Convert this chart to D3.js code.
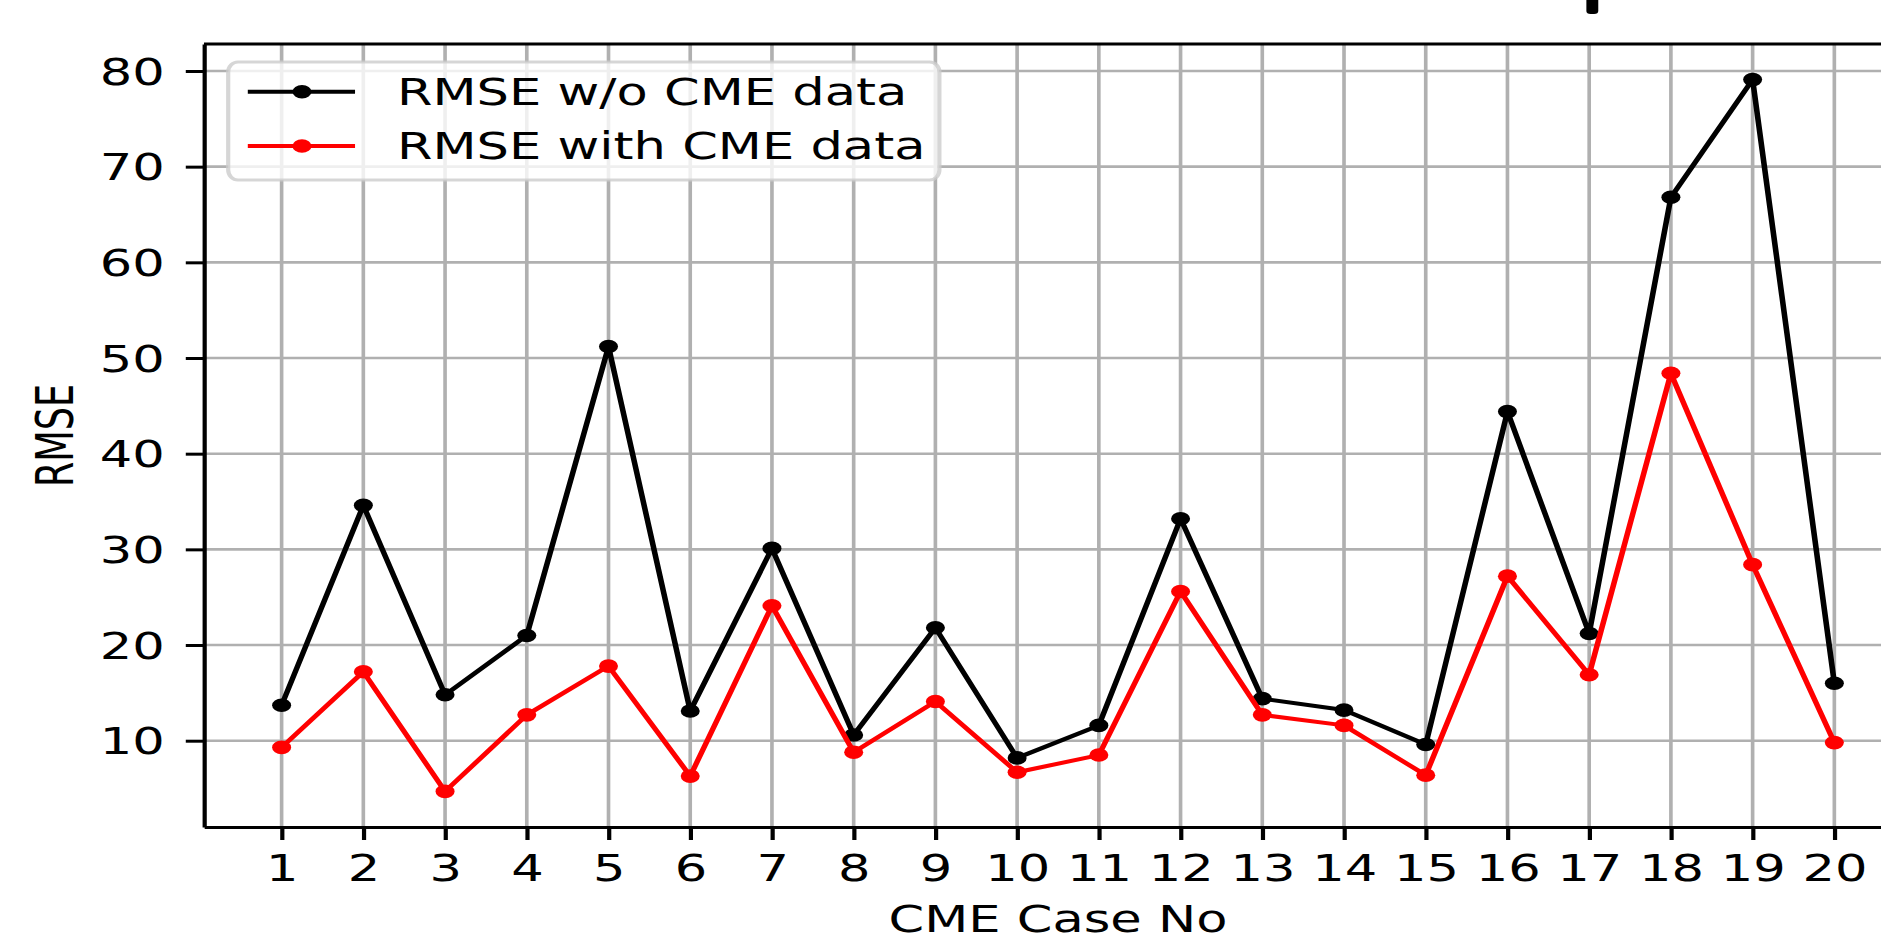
<!DOCTYPE html>
<html lang="en">
<head>
  <meta charset="UTF-8">
  <title>RMSE per CME case</title>
  <script src="https://d3js.org/d3.v7.min.js"></script>
  <style>
    body {
      margin: 0;
      background: #fff;
    }

    svg {
      display: block;
    }

    text {
      font-family: "DejaVu Sans", sans-serif;
      fill: #000;
    }
  </style>
</head>
<body>
  <svg id="chart"></svg>

  <script>
    const cases = [1, 2, 3, 4, 5, 6, 7, 8, 9, 10, 11, 12, 13, 14, 15, 16, 17, 18, 19, 20];
    const rmseWithout = [13.7, 34.6, 14.8, 21.0, 51.2, 13.1, 30.1, 10.6, 21.8, 8.2,
                         11.6, 33.2, 14.4, 13.2, 9.6, 44.4, 21.2, 66.8, 79.1, 16.0];
    const rmseWith = [9.3, 17.2, 4.7, 12.7, 17.8, 6.3, 24.1, 8.8, 14.1, 6.7,
                      8.5, 25.6, 12.7, 11.6, 6.4, 27.2, 16.9, 48.4, 28.4, 9.8];
    const yTicks = [10, 20, 30, 40, 50, 60, 70, 80];
    const seriesNames = ["RMSE w/o CME data", "RMSE with CME data"];

    // the picture is a matplotlib figure stretched sideways, so draw in a
    // narrower box and let the viewBox stretch it
    const width = 1881;
    const height = 934;
    const stretch = 1.4;
    const vw = width / stretch;

    const svg = d3.select("#chart")
      .attr("width", width)
      .attr("height", height)
      .attr("viewBox", `0 0 ${vw} ${height}`)
      .attr("preserveAspectRatio", "none");

    const plot = { left: 145.7, right: 1365.7, top: 44, bottom: 827 };
    const fontSize = 36.5;

    // matplotlib style 5% margins around the data
    const xMin = d3.min(cases), xMax = d3.max(cases);
    const xPad = (xMax - xMin) * 0.05;
    const allVals = rmseWithout.concat(rmseWith);
    const yMin = d3.min(allVals), yMax = d3.max(allVals);
    const yPad = (yMax - yMin) * 0.05;

    const x = d3.scaleLinear()
      .domain([xMin - xPad, xMax + xPad])
      .range([plot.left, plot.right]);

    const y = d3.scaleLinear()
      .domain([yMin - yPad, yMax + yPad])
      .range([plot.bottom, plot.top]);

    // grid
    const grid = svg.append("g")
      .attr("stroke", "#b0b0b0")
      .attr("stroke-width", 2.6);

    grid.selectAll(".vgrid")
      .data(cases)
      .join("line")
      .attr("x1", d => x(d))
      .attr("x2", d => x(d))
      .attr("y1", plot.top)
      .attr("y2", plot.bottom);

    grid.selectAll(".hgrid")
      .data(yTicks)
      .join("line")
      .attr("x1", plot.left)
      .attr("x2", plot.right)
      .attr("y1", d => y(d))
      .attr("y2", d => y(d));

    // axes
    const xAxis = d3.axisBottom(x)
      .tickValues(cases)
      .tickFormat(d3.format("d"))
      .tickSize(13)
      .tickSizeOuter(0)
      .tickPadding(15);

    const yAxis = d3.axisLeft(y)
      .tickValues(yTicks)
      .tickFormat(d3.format("d"))
      .tickSize(13)
      .tickSizeOuter(0)
      .tickPadding(15);

    const gx = svg.append("g")
      .attr("transform", `translate(0,${plot.bottom})`)
      .call(xAxis);

    const gy = svg.append("g")
      .attr("transform", `translate(${plot.left},0)`)
      .call(yAxis);

    [gx, gy].forEach(g => {
      g.attr("font-family", null).attr("font-size", null);
      g.select(".domain").attr("stroke", "#000").attr("stroke-width", 3);
      g.selectAll(".tick line").attr("stroke", "#000").attr("stroke-width", 3);
      g.selectAll(".tick text").style("font-size", fontSize + "px");
    });
    gy.selectAll(".tick text").attr("dy", "0.36em");

    // top and right spines
    svg.append("line")
      .attr("x1", plot.left).attr("x2", plot.right)
      .attr("y1", plot.top).attr("y2", plot.top)
      .attr("stroke", "#000").attr("stroke-width", 3);
    svg.append("line")
      .attr("x1", plot.right).attr("x2", plot.right)
      .attr("y1", plot.top).attr("y2", plot.bottom)
      .attr("stroke", "#000").attr("stroke-width", 3);

    // axis titles
    svg.append("text")
      .attr("x", (plot.left + plot.right) / 2)
      .attr("y", 932)
      .attr("text-anchor", "middle")
      .style("font-size", fontSize + "px")
      .text("CME Case No");

    svg.append("text")
      .attr("transform", `translate(52,${(plot.top + plot.bottom) / 2}) rotate(-90)`)
      .attr("text-anchor", "middle")
      .style("font-size", fontSize + "px")
      .text("RMSE");

    // series
    const series = [
      { name: seriesNames[0], values: rmseWithout, color: "#000000" },
      { name: seriesNames[1], values: rmseWith, color: "#ff0000" }
    ];

    const line = d3.line()
      .x((d, i) => x(cases[i]))
      .y(d => y(d));

    series.forEach(s => {
      svg.append("path")
        .datum(s.values)
        .attr("fill", "none")
        .attr("stroke", s.color)
        .attr("stroke-width", 4)
        .attr("stroke-linejoin", "round")
        .attr("d", line);

      svg.append("g")
        .selectAll("circle")
        .data(s.values)
        .join("circle")
        .attr("cx", (d, i) => x(cases[i]))
        .attr("cy", d => y(d))
        .attr("r", 6.8)
        .attr("fill", s.color);
    });

    // legend
    const legend = svg.append("g");
    legend.append("rect")
      .attr("x", 163)
      .attr("y", 62)
      .attr("width", 508)
      .attr("height", 118)
      .attr("rx", 7)
      .attr("ry", 10)
      .attr("fill", "#fff")
      .attr("fill-opacity", 0.8)
      .attr("stroke", "#cccccc")
      .attr("stroke-opacity", 0.8)
      .attr("stroke-width", 3);

    const rowY = [91.7, 146];
    series.forEach((s, i) => {
      const g = legend.append("g").attr("transform", `translate(0,${rowY[i]})`);
      g.append("line")
        .attr("x1", 177).attr("x2", 253.6)
        .attr("stroke", s.color)
        .attr("stroke-width", 4);
      g.append("circle")
        .attr("cx", 215.7)
        .attr("r", 6.8)
        .attr("fill", s.color);
      g.append("text")
        .attr("x", 283.6)
        .attr("y", 12.8)
        .style("font-size", fontSize + "px")
        .text(s.name);
    });

    // stray mark at the top edge of the figure
    svg.append("rect")
      .attr("x", x(17) - 2)
      .attr("y", -6)
      .attr("width", 8.5)
      .attr("height", 20)
      .attr("rx", 3)
      .attr("fill", "#000");
  </script>
</body>
</html>
